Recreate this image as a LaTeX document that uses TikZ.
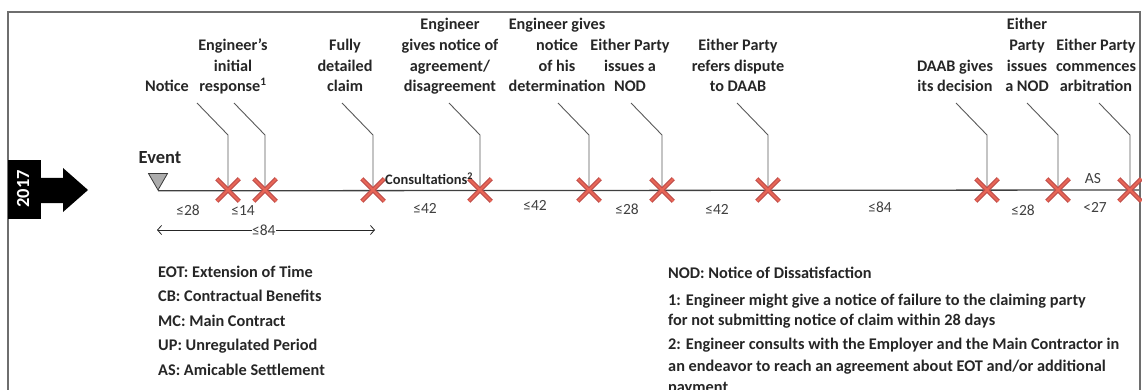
\documentclass[tikz,border=0pt]{standalone}
\usepackage{fontspec}
\setmainfont{Carlito}
\usetikzlibrary{shapes.misc,shapes.geometric,arrows.meta,backgrounds}
\definecolor{ink}{RGB}{38,38,38}
\definecolor{numgray}{RGB}{64,64,64}
\definecolor{leadgray}{RGB}{89,89,89}
\definecolor{xdark}{RGB}{192,80,77}
\definecolor{xlight}{RGB}{232,102,86}
\definecolor{framegray}{RGB}{110,110,110}
\tikzset{
  lab/.style={font=\fontsize{16.2}{20.7}\selectfont\bfseries, align=center, inner sep=0pt, anchor=south, text=ink},
  num/.style={font=\fontsize{15.5}{18}\selectfont, inner sep=0pt, anchor=base, text=numgray},
  legend/.style={font=\fontsize{16.3}{19}\selectfont\bfseries, inner sep=0pt, anchor=base west, text=ink},
  xmark/.style={cross out, draw=xdark, line width=4.5pt, minimum size=18pt, inner sep=0pt,
    postaction={draw=xlight, line width=2pt}},
  leader/.style={draw=leadgray, line width=0.9pt},
  axis/.style={draw=numgray, line width=1.3pt},
  span/.style={draw=ink, line width=0.8pt, {Straight Barb[length=4pt,width=9pt]}-{Straight Barb[length=4pt,width=9pt]}},
}
\begin{document}
\begin{tikzpicture}[x=1pt,y=-1pt]
\useasboundingbox (0,0) rectangle (1142,390);

% frame
\draw[framegray, line width=1.3pt] (8,392) -- (8,12) -- (1140,12) -- (1140,392);

% year marker with arrow
\fill[black] (8,160) rectangle (41,219);
\fill[black] (41,178) -- (63,178) -- (63,168) -- (88,190) -- (63,212) -- (63,203) -- (41,203) -- cycle;
\node[rotate=90, text=white, font=\fontsize{18.5}{20}\selectfont\bfseries, inner sep=0pt] (yr) at (23,189) {2017};

% event
\node[font=\fontsize{18.5}{20}\selectfont\bfseries, text=ink, inner sep=0pt, anchor=base] (evt) at (160,164) {Event};
\node[regular polygon, regular polygon sides=3, shape border rotate=180, draw=gray!45!black,
      fill=gray!65, minimum size=22pt, inner sep=0pt, line width=0.8pt] (ev) at (158,179) {};
\coordinate (tend) at (1140,190);

% milestones on the time line
\foreach \n/\x in {1/228,2/265,3/373,4/480,5/589,6/662,7/768,8/987,9/1058,10/1130} {
  \node[xmark] (m\n) at (\x,190) {};
  \coordinate (s\n) at (\x-31,103);
  \coordinate (b\n) at (\x,135);
}
\begin{pgfonlayer}{background}
  \draw[axis] (ev.south) -- (tend);
  \foreach \n in {1,...,10} {
    \draw[leader] (s\n) -- (b\n) -- (m\n.center);
  }
\end{pgfonlayer}

% milestone labels
\node[lab] (l1) at (167,98.2) {Notice\strut};
\node[lab] (l2) at (233,98.2) {Engineer’s\\initial\\response\textsuperscript{1}\strut};
\node[lab] (l3) at (345,98.2) {Fully\\detailed\\claim\strut};
\node[lab] (l4) at (450,98.2) {Engineer\\gives notice of\\agreement/\\disagreement\strut};
\node[lab] (l5) at (557,98.2) {Engineer gives\\notice\\of his\\determination\strut};
\node[lab] (l6) at (630,98.2) {Either Party\\issues a\\NOD\strut};
\node[lab] (l7) at (738,98.2) {Either Party\\refers dispute\\to DAAB\strut};
\node[lab] (l8) at (955,98.2) {DAAB gives\\its decision\strut};
\node[lab] (l9) at (1027,98.2) {Either\\Party\\issues\\a NOD\strut};
\node[lab] (l10) at (1096,98.2) {Either Party\\commences\\arbitration\strut};

% periods
\node[num] (d1) at (188,215) {≤28};
\node[num] (d2) at (243,215) {≤14};
\node[num] (d3) at (425,213) {≤42};
\node[num] (d4) at (535,210) {≤42};
\node[num] (d5) at (627,214) {≤28};
\node[num] (d6) at (717,214) {≤42};
\node[num] (d7) at (880,212) {≤84};
\node[num] (d8) at (1023,215) {≤28};
\node[num] (d9) at (1095,212) {<27};
\node[num] (as) at (1093,183) {AS};
\node[num, anchor=base west, font=\fontsize{14.5}{16}\selectfont\bfseries, text=ink] (cons) at (385,185) {Consultations\textsuperscript{2}};

% overall notice-to-claim span
\coordinate (a0) at (157,230);
\coordinate (a1) at (375,230);
\draw[span] (a0) -- node[num, anchor=center, fill=white, inner sep=0.5pt, pos=0.49] (d0) {≤84} (a1);

% abbreviations
\node[legend] (g1) at (158,277) {EOT: Extension of Time};
\node[legend] (g2) at (158,301.5) {CB: Contractual Benefits};
\node[legend] (g3) at (158,326) {MC: Main Contract};
\node[legend] (g4) at (158,350.5) {UP: Unregulated Period};
\node[legend] (g5) at (158,375) {AS: Amicable Settlement};

% notes
\node[legend] (n1) at (668,278) {NOD: Notice of Dissatisfaction};
\node[legend] (n2) at (668,305.5) {1: Engineer might give a notice of failure to the claiming party};
\node[legend] (n3) at (668,325) {for not submitting notice of claim within 28 days};
\node[legend] (n4) at (668,349.5) {2: Engineer consults with the Employer and the Main Contractor in};
\node[legend] (n5) at (668,371) {an endeavor to reach an agreement about EOT and/or additional};
\node[legend] (n6) at (668,392) {payment};
\end{tikzpicture}
\end{document}
